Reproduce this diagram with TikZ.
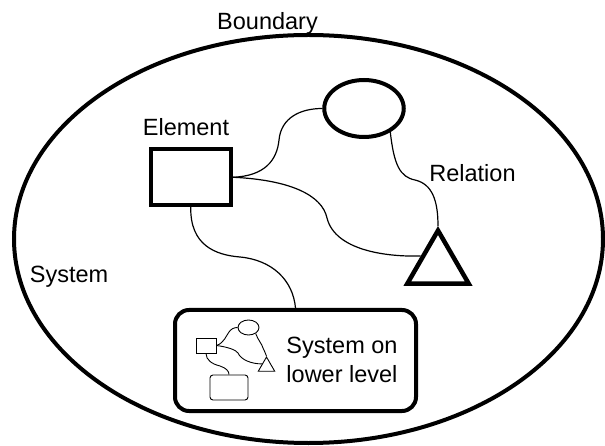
\documentclass[tikz,border=0pt]{standalone}
\usepackage{fontspec}
\setmainfont{Liberation Sans}
\usetikzlibrary{shapes.geometric,calc}
\begin{document}
\begin{tikzpicture}[x=1pt,y=-1pt,
  thickline/.style={line width=4pt},
  conn/.style={line width=1.2pt},
  smallconn/.style={line width=0.9pt},
  lbl/.style={font=\fontsize{23.5}{29}\selectfont, inner sep=0pt, anchor=base},
  line join=miter]
\useasboundingbox (0,0) rectangle (605,446);
% boundary
\node[thickline, draw, ellipse, minimum width=589pt, minimum height=408pt, inner sep=0pt] (bound) at (308.5,239) {};
% elements
\node[thickline, draw, rectangle, minimum width=80.5pt, minimum height=55.5pt, inner sep=0pt] (el) at (190.75,177.25) {};
\node[thickline, draw, ellipse, minimum width=79.5pt, minimum height=57pt, inner sep=0pt] (ov) at (364,108.5) {};
\node[line width=4.5pt, draw, regular polygon, regular polygon sides=3, minimum size=71pt, inner sep=0pt] (tri) at (438,266) {};
\node[thickline, draw, rectangle, rounded corners=14pt, minimum width=241pt, minimum height=101pt, inner sep=0pt] (sub) at (295.5,360.5) {};
% texts
\node[lbl] (tbound) at (267.5,30) {Boundary};
\node[lbl] (tel) at (186,136) {Element};
\node[lbl] (trel) at (472.5,182) {Relation};
\node[lbl] (tsys) at (69,283) {System};
\node[lbl, align=center] (tsub) at (342,382) {System on\\lower level};
% relations
\draw[conn] (el.east) .. controls (265,176) and (277,160) .. (279,140)
  .. controls (281,118) and (300,108.5) .. (ov.west);
\draw[conn] (el.east) .. controls (290,180) and (322,195) .. (327,218)
  .. controls (335,250) and (385,257) .. ($(tri.corner 1)!0.5!(tri.corner 2)$);
\draw[conn] (ov.-42) .. controls (394,165) and (400,177) .. (415,180)
  .. controls (432,184) and (438,200) .. (tri.corner 1);
\draw[conn] (el.south) .. controls (190,245) and (215,255) .. (240,257)
  .. controls (272,260) and (293,280) .. (sub.north);
% small system
\node[smallconn, draw, rectangle, minimum width=20pt, minimum height=15pt, inner sep=0pt] (srect) at (206,345.5) {};
\node[smallconn, draw, ellipse, minimum width=21pt, minimum height=15pt, inner sep=0pt] (sell) at (248.5,327.5) {};
\node[smallconn, draw, regular polygon, regular polygon sides=3, minimum size=19pt, inner sep=0pt] (stri) at (266.5,366.5) {};
\node[smallconn, draw, rectangle, rounded corners=3pt, minimum width=38pt, minimum height=25pt, inner sep=0pt] (srr) at (229,387.5) {};
\draw[smallconn] (srect.east) .. controls (224,343) and (226,336) .. (229,332)
  .. controls (231,329) and (234,327.5) .. (sell.west);
\draw[smallconn] (srect.east) .. controls (228,347) and (236,350) .. (238,353)
  .. controls (241,360) and (252,364) .. ($(stri.corner 1)!0.5!(stri.corner 2)$);
\draw[smallconn] (sell.-40) .. controls (258,340) and (262,344) .. (263,348)
  .. controls (265,352) and (266,355) .. (stri.corner 1);
\draw[smallconn] (srect.south) .. controls (206,360) and (212,364) .. (220,366)
  .. controls (226,368) and (229,371) .. (srr.north);
\end{tikzpicture}
\end{document}
